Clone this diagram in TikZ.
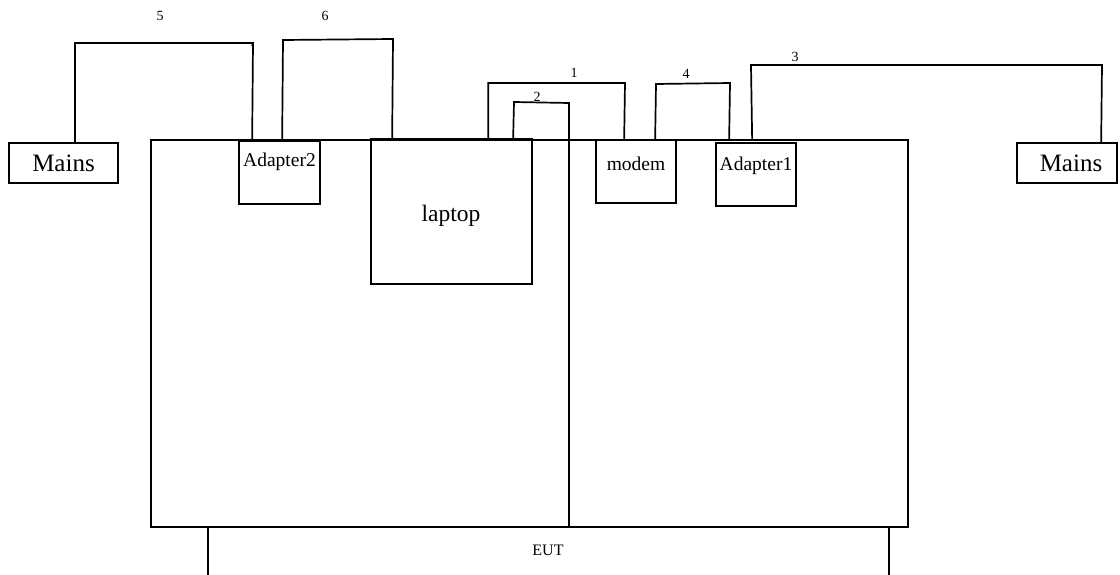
\documentclass[tikz,border=0pt]{standalone}
\usepackage{fontspec}
\setmainfont{Liberation Serif}
\begin{document}
\begin{tikzpicture}[x=1pt,y=-1pt,
  box/.style={draw=black,line width=1.7pt,inner sep=0pt,rectangle},
  wire/.style={draw=black,line width=1.7pt},
  num/.style={inner sep=0pt,font=\fontsize{14}{14}\selectfont},
  big/.style={inner sep=0pt,font=\fontsize{25}{25}\selectfont},
  mid/.style={inner sep=0pt,font=\fontsize{19.5}{19.5}\selectfont}]
\useasboundingbox (0,0) rectangle (1120,575);
% boxes
\node[box,minimum width=757pt,minimum height=387pt] (table) at (529.5,333.5) {};
\node[box,minimum width=109pt,minimum height=40pt] (mainsL) at (63.5,163) {};
\node[box,minimum width=100pt,minimum height=40pt] (mainsR) at (1067,163) {};
\node[box,minimum width=81pt,minimum height=63pt] (adapter2) at (279.5,172.5) {};
\node[box,minimum width=161pt,minimum height=145pt] (laptop) at (451.5,211.5) {};
\node[box,minimum width=80pt,minimum height=63pt] (modem) at (636,171.5) {};
\node[box,minimum width=80pt,minimum height=63pt] (adapter1) at (756,174.5) {};
% texts
\node[big] (tMainsL) at (63.5,163) {Mains};
\node[big] (tMainsR) at (1071,163) {Mains};
\node[mid] (tAdapter2) at (279.5,162) {Adapter2};
\node[big,font=\fontsize{23.5}{23.5}\selectfont] (tLaptop) at (451,216) {laptop};
\node[mid] (tModem) at (636,164) {modem};
\node[mid] (tAdapter1) at (756,166) {Adapter1};
\node[inner sep=0pt,font=\fontsize{16}{16}\selectfont] (tEUT) at (548,550) {EUT};
% cable labels
\node[num] (n5) at (160,16) {5};
\node[num] (n6) at (325,16) {6};
\node[num] (n1) at (574,73) {1};
\node[num] (n2) at (537,97) {2};
\node[num] (n4) at (686,74) {4};
\node[num] (n3) at (795,57) {3};
% cables
\coordinate (c5a) at ([xshift=11.5pt]mainsL.north);
\coordinate (c5b) at ([xshift=14pt]adapter2.north west);
\draw[wire] (c5a) |- (253,43) -- ([yshift=-3pt]c5b |- 0,43) (253,43) -- (c5b |- table.north);
\coordinate (c6a) at ([xshift=44pt]adapter2.north west);
\coordinate (c6b) at ([xshift=22pt]laptop.north west);
\draw[wire] (c6a |- table.north) -- (283,40) -- (393,39) -- (c6b);
\coordinate (c1a) at ([xshift=118pt]laptop.north west);
\coordinate (c1b) at ([xshift=29pt]modem.north west);
\draw[wire] (c1a) |- (625,83) -- (c1b);
\coordinate (c2a) at ([xshift=143pt]laptop.north west);
\coordinate (c2b) at ([xshift=39.5pt]table.south);
\draw[wire] (c2a) -- (514,102) -- (569,103) -- (c2b);
\coordinate (c4a) at ([xshift=60pt]modem.north west);
\coordinate (c4b) at ([xshift=14pt]adapter1.north west);
\draw[wire] (c4a) -- (656,84) -- (730,83) -- (c4b |- table.north);
\coordinate (c3a) at ([xshift=37pt]adapter1.north west);
\coordinate (c3b) at ([xshift=85pt]mainsR.north west);
\draw[wire] (c3a |- table.north) -- (751,65) -- (1102,65) -- (c3b);
% EUT legs
\coordinate (legL) at ([xshift=58pt]table.south west);
\coordinate (legR) at ([xshift=-20pt]table.south east);
\draw[wire] (legL) -- ++(0,48);
\draw[wire] (legR) -- ++(0,48);
\end{tikzpicture}
\end{document}
